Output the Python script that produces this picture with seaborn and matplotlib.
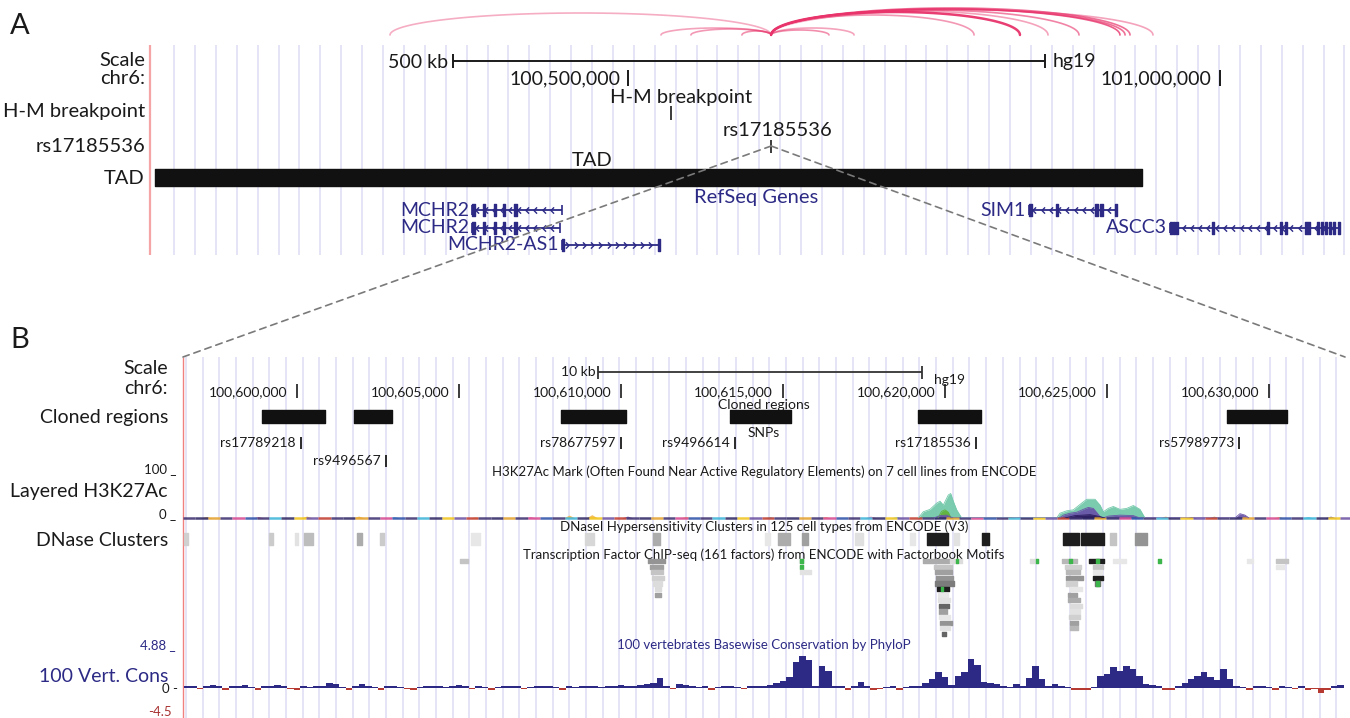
'''
    UCSC-style browser view of the MCHR2 / SIM1 TAD on chr6 (hg19).
    Panel A: the whole TAD with its chromatin loops, panel B: zoom on the cloned regions.
'''
import numpy as np
import pandas as pd
import matplotlib
matplotlib.use('Agg')
import matplotlib.pyplot as plt
from matplotlib.patches import ConnectionPatch
from matplotlib.path import Path
import seaborn as sns

# ---------------- panel A : chr6 view ----------------
a_view = [100_097_780, 101_105_865]
a_ticks = [100_500_000, 101_000_000]
a_tick_labels = ['100,500,000', '101,000,000']
a_scale_bar = [100_352_000, 100_852_000]       # 500 kb
hm_breakpoint = 100_536_000
rs17185536 = 100_620_960
tad = [100_100_000, 100_934_000]

gene_names = ['MCHR2', 'MCHR2', 'MCHR2-AS1', 'SIM1', 'ASCC3']
gene_rows = [0, 1, 2, 0, 1]
gene_starts = [100_368_200, 100_368_200, 100_444_200, 100_838_800, 100_958_000]
gene_ends = [100_444_200, 100_442_500, 100_527_000, 100_913_200, 101_101_600]
gene_strands = ['-', '-', '+', '-', '-']
gene_exons = [
    [(100_368_200, 100_370_700), (100_377_500, 100_379_200), (100_386_800, 100_388_500),
     (100_394_400, 100_396_100), (100_403_700, 100_406_200)],
    [(100_368_200, 100_370_700), (100_377_500, 100_379_200), (100_386_800, 100_388_500),
     (100_394_400, 100_396_100), (100_403_700, 100_406_200)],
    [(100_444_200, 100_445_900), (100_525_300, 100_527_000)],
    [(100_838_800, 100_841_400), (100_861_700, 100_863_400), (100_894_600, 100_897_200),
     (100_898_900, 100_901_400), (100_911_500, 100_913_200)],
    [(100_958_000, 100_959_700), (100_960_500, 100_962_200), (100_963_000, 100_964_700),
     (100_993_400, 100_995_100), (101_039_900, 101_041_600), (101_050_900, 101_052_600),
     (101_055_100, 101_056_800), (101_072_000, 101_076_200), (101_082_100, 101_083_800),
     (101_085_500, 101_087_200), (101_088_900, 101_090_600), (101_092_300, 101_094_000),
     (101_095_600, 101_097_300), (101_099_900, 101_101_600)],
]

# loops (interaction arcs) above panel A
arc_left = [100_298_900, 100_527_900, 100_553_200, 100_596_300] + [rs17185536] * 10
arc_right = [rs17185536] * 4 + [100_669_800, 100_691_000, 100_792_400, 100_831_200, 100_854_900,
                                100_881_100, 100_915_700, 100_920_000, 100_924_200, 100_943_600]
arc_height = [22, 7, 6, 4, 5, 7, 20, 23, 24, 25, 26, 26, 27, 25]
arc_alpha = [0.4, 0.45, 0.5, 0.55, 0.55, 0.45, 0.5, 0.95, 0.45, 0.6, 0.8, 0.7, 0.7, 0.45]

# ---------------- panel B : zoom ----------------
b_view = [100_596_481, 100_632_346]
b_ticks = [100_600_000, 100_605_000, 100_610_000, 100_615_000, 100_620_000, 100_625_000, 100_630_000]
b_tick_labels = ['100,600,000', '100,605,000', '100,610,000', '100,615,000',
                 '100,620,000', '100,625,000', '100,630,000']
b_scale_bar = [100_609_300, 100_619_300]       # 10 kb

cloned_starts = [100_598_920, 100_601_759, 100_608_148, 100_613_364, 100_619_167, 100_628_704]
cloned_ends = [100_600_864, 100_602_932, 100_610_154, 100_615_247, 100_621_111, 100_630_556]

snp_names = ['rs17789218', 'rs9496567', 'rs78677597', 'rs9496614', 'rs17185536', 'rs57989773']
snp_pos = [100_600_120, 100_602_750, 100_609_985, 100_613_520, rs17185536, 100_629_070]
snp_rows = [0, 1, 0, 0, 0, 0]

# H3K27Ac layered signal (0-100)
teal_pos = [100_619_176, 100_619_330, 100_619_537, 100_619_744, 100_619_846, 100_619_948,
            100_620_102, 100_620_176, 100_620_256, 100_620_361, 100_620_515,
            100_623_448, 100_623_549, 100_623_756, 100_623_960, 100_624_219, 100_624_373,
            100_624_630, 100_624_784, 100_624_886, 100_625_040, 100_625_194, 100_625_401,
            100_625_608, 100_625_812, 100_626_019, 100_626_173]
teal_val = [0, 13, 18, 31, 35, 27, 48, 51, 35, 17, 0,
            0, 10, 15, 17, 31, 39, 39, 27, 13, 20, 24, 18, 20, 26, 18, 0]
purple_pos = [100_619_650, 100_619_850, 100_620_050, 100_620_250,
              100_623_528, 100_623_651, 100_623_858, 100_624_064, 100_624_269, 100_624_423,
              100_624_577, 100_624_701, 100_624_784, 100_624_886, 100_625_040, 100_625_401,
              100_625_812, 100_626_019, 100_628_951, 100_629_105, 100_629_259, 100_629_383]
purple_val = [0, 5, 6, 0, 0, 6, 10, 12, 18, 22, 20, 10, 3, 0, 4, 6, 5, 0, 0, 9, 6, 0]
green_pos = [100_619_781, 100_619_895, 100_620_000, 100_620_102, 100_620_185]
green_val = [0, 14, 17, 12, 0]
navy_pos = [100_623_700, 100_624_010, 100_624_480, 100_624_780, 100_624_930]
navy_val = [0, 5, 7, 3, 0]
# small bumps along the baseline: position, height, colour
h3_bumps = [(100_597_200, 3, '#f2b134'), (100_598_800, 3, '#e86aa6'), (100_600_300, 4, '#f2b134'),
            (100_601_900, 4, '#f2b134'), (100_603_000, 3, '#5ac8e0'), (100_605_500, 2, '#f2b134'),
            (100_607_200, 3, '#e86aa6'), (100_608_400, 6, '#f2b134'), (100_609_100, 7, '#f2b134'),
            (100_610_200, 4, '#6a4fa0'), (100_612_000, 3, '#f2b134'), (100_614_600, 3, '#5ac8e0'),
            (100_616_300, 3, '#f2b134'), (100_617_700, 4, '#e86aa6'), (100_618_500, 3, '#5ac8e0'),
            (100_622_000, 3, '#f2b134'), (100_626_800, 4, '#f2b134'), (100_627_600, 3, '#6a4fa0'),
            (100_628_300, 4, '#f2b134'), (100_630_300, 3, '#f2b134'), (100_631_200, 3, '#5ac8e0'),
            (100_631_900, 4, '#6a4fa0')]

# DNase clusters: start, end, darkness (0 white .. 1 black)
dnase = [(100_596_510, 100_596_640, 0.2), (100_599_136, 100_599_259, 0.22),
         (100_599_938, 100_600_031, 0.12), (100_600_216, 100_600_494, 0.28),
         (100_601_852, 100_602_006, 0.35), (100_602_562, 100_602_685, 0.22),
         (100_605_370, 100_605_648, 0.1), (100_608_889, 100_609_167, 0.17),
         (100_610_988, 100_611_204, 0.35), (100_614_444, 100_614_599, 0.1),
         (100_614_846, 100_615_216, 0.35), (100_615_586, 100_615_772, 0.4),
         (100_617_222, 100_617_469, 0.13), (100_618_920, 100_619_074, 0.1),
         (100_619_444, 100_620_093, 0.95), (100_620_278, 100_620_432, 0.12),
         (100_621_142, 100_621_358, 0.95), (100_623_642, 100_624_136, 0.95),
         (100_624_198, 100_624_907, 0.95), (100_625_093, 100_625_278, 0.25),
         (100_625_864, 100_626_235, 0.45)]

# TF ChIP-seq clusters: start, end, row, darkness, motif position
tf_peaks = [
    (100_605_031, 100_605_278, 0, 0.25, None), (100_610_833, 100_611_358, 0, 0.45, None),
    (100_615_494, 100_615_648, 0, 0.08, 100_615_570), (100_619_321, 100_620_154, 0, 0.35, None),
    (100_620_154, 100_620_525, 0, 0.15, 100_620_370), (100_622_623, 100_622_870, 0, 0.15, 100_622_840),
    (100_623_611, 100_624_074, 0, 0.3, 100_623_860), (100_624_444, 100_624_907, 0, 0.95, 100_624_720),
    (100_625_185, 100_625_586, 0, 0.1, None), (100_626_574, 100_626_667, 0, 0.05, 100_626_620),
    (100_629_321, 100_629_506, 0, 0.1, None), (100_630_216, 100_630_586, 0, 0.25, None),
    (100_610_895, 100_611_296, 1, 0.4, None), (100_615_525, 100_615_620, 1, 0.05, 100_615_570),
    (100_619_660, 100_620_216, 1, 0.25, None), (100_623_704, 100_624_198, 1, 0.2, None),
    (100_624_568, 100_624_877, 1, 0.25, None), (100_630_216, 100_630_463, 1, 0.1, None),
    (100_610_926, 100_611_296, 2, 0.25, None), (100_615_525, 100_615_864, 2, 0.12, None),
    (100_619_691, 100_620_216, 2, 0.4, None), (100_623_735, 100_624_167, 2, 0.3, None),
    (100_624_568, 100_624_846, 2, 0.1, None),
    (100_610_957, 100_611_327, 3, 0.2, None), (100_619_722, 100_620_247, 3, 0.45, None),
    (100_623_735, 100_624_259, 3, 0.45, None), (100_624_568, 100_624_877, 3, 0.95, None),
    (100_610_988, 100_611_265, 4, 0.15, None), (100_619_691, 100_620_278, 4, 0.55, None),
    (100_623_735, 100_624_074, 4, 0.2, None), (100_624_630, 100_624_784, 4, 0.6, 100_624_700),
    (100_611_049, 100_611_235, 5, 0.15, None), (100_619_753, 100_620_123, 5, 0.95, 100_619_907),
    (100_623_858, 100_624_228, 5, 0.1, None),
    (100_611_049, 100_611_235, 6, 0.4, None), (100_619_784, 100_620_093, 6, 0.1, None),
    (100_623_796, 100_624_074, 6, 0.4, None),
    (100_619_784, 100_620_154, 7, 0.12, None), (100_623_796, 100_624_167, 7, 0.35, None),
    (100_619_815, 100_620_123, 8, 0.65, None), (100_623_858, 100_624_228, 8, 0.15, None),
    (100_619_815, 100_620_062, 9, 0.4, None), (100_623_858, 100_624_167, 9, 0.12, None),
    (100_619_815, 100_620_154, 10, 0.1, None), (100_623_827, 100_624_167, 10, 0.2, None),
    (100_619_846, 100_620_216, 11, 0.45, None), (100_623_858, 100_624_105, 11, 0.4, None),
    (100_619_846, 100_620_154, 12, 0.12, None), (100_623_858, 100_624_105, 12, 0.3, None),
    (100_619_907, 100_620_031, 13, 0.65, None),
]

# PhyloP 100-way, fixedStep 200 bp from cons_start
cons_start = 100_596_500
cons_step = 200
cons_vals = [
    0.2, 0.3, -0.1, 0.3, 0.4, 0.2, -0.2, 0.3, 0.2, 0.4,
    0.1, -0.2, 0.2, 0.3, 0.4, 0.2, -0.1, -0.2, 0.2, 0.1,
    0.3, 0.2, 0.6, 0.5, 0.1, -0.2, 0.2, 0.5, 0.2, 0.1,
    -0.2, 0.2, 0.3, 0.1, -0.1, -0.2, 0.1, 0.2, 0.3, 0.2,
    0.1, 0.3, 0.4, 0.2, -0.1, 0.2, 0.1, -0.2, 0.1, 0.2,
    0.3, 0.2, -0.1, 0.1, 0.2, 0.3, 0.2, 0.1, -0.2, 0.2,
    0.1, 0.2, 0.3, 0.2, 0.1, 0.3, 0.2, 0.4, 0.3, 0.2,
    0.4, 0.5, 0.6, 1.3, 0.3, -0.1, 0.5, 0.4, 0.2, 0.1,
    0.2, -0.2, 0.1, 0.2, 0.3, 0.1, -0.1, 0.2, 0.3, 0.2,
    0.4, 0.6, 0.9, 1.4, 3.3, 4.1, 3.6, 0.3, 2.8, 2.2,
    0.2, 0.2, -0.2, 0.3, 0.8, 0.2, -0.2, -0.1, 0.1, 0.2,
    -0.2, 0.1, 0.2, 0.3, 0.6, 1.2, 2.1, 1.4, 0.4, 1.6,
    2.1, 3.7, 2.9, 0.8, 0.6, 0.5, 0.2, 0.1, 0.5, 0.2,
    1.3, 2.8, 1.2, 0.3, 0.5, 0.2, 0.1, -0.2, -0.3, -0.2,
    0.1, 1.5, 1.8, 2.7, 2.2, 2.8, 2.4, 1.6, 0.5, 0.4,
    0.2, -0.2, -0.3, 0.3, 0.6, 1.2, 1.6, 2.0, 1.4, 1.0,
    2.5, 1.2, 0.3, 0.1, -0.2, 0.2, 0.3, 0.1, -0.2, 0.2,
    0.1, -0.1, 0.2, -0.2, -0.1, -0.7, -0.3, 0.3, 0.4,
]

# ---------------- styling ----------------
W, H = 1350, 718
NAVY = '#2c2a85'
PINK = '#e8336b'
TEAL = '#74c9ab'
INK = '#1a1a1a'
GUIDE = '#dcdcf4'

sns.set_style('white')
plt.rcParams['font.family'] = ['Lato', 'DejaVu Sans']

fig = plt.figure(figsize=(W / 100, H / 100), dpi=100)


def px_axes(x0, y0, x1, y1):
    ax = fig.add_axes([x0 / W, 1 - y1 / H, (x1 - x0) / W, (y1 - y0) / H])
    ax.set_axis_off()
    ax.patch.set_alpha(0)
    return ax


ax_bg = px_axes(0, 0, W, H)
ax_bg.set_xlim(0, W)
ax_bg.set_ylim(H, 0)

ax_a = px_axes(152, 0, 1345, 260)
ax_a.set_xlim(*a_view)
ax_a.set_ylim(260, 0)

ax_b = px_axes(183, 330, 1345, 718)
ax_b.set_xlim(*b_view)
ax_b.set_ylim(718, 330)

ax_h3 = px_axes(183, 470, 1345, 518)
ax_h3.set_xlim(*b_view)
ax_h3.set_ylim(0, 100)

ax_cons = px_axes(183, 650, 1345, 723)
ax_cons.set_xlim(*b_view)
ax_cons.set_ylim(-4.5, 4.88)

# guide lines
ax_bg.vlines(np.arange(174, 1345, 20.9), 45, 255, color=GUIDE, lw=1.1, zorder=0)
ax_bg.vlines(np.arange(186, 1345, 16.67), 357, 718, color=GUIDE, lw=1.1, zorder=0)
ax_bg.vlines(150, 45, 255, color='#f5a5a5', lw=1.6)
ax_bg.vlines(183, 357, 718, color='#f08080', lw=1.0)

# panel letters and left labels
ax_bg.text(10, 26, 'A', fontsize=21, color=INK, va='center')
ax_bg.text(10, 340, 'B', fontsize=21, color=INK, va='center')
for txt, y in [('Scale', 61), ('chr6:', 78), ('H-M breakpoint', 112), ('rs17185536', 146), ('TAD', 178)]:
    ax_bg.text(145, y, txt, fontsize=14.5, color=INK, ha='right', va='center')
for txt, y in [('Scale', 369), ('chr6:', 388), ('Cloned regions', 417), ('Layered H3K27Ac', 492),
               ('DNase Clusters', 540)]:
    ax_bg.text(168, y, txt, fontsize=14, color=INK, ha='right', va='center')
ax_bg.text(168, 676, '100 Vert. Cons', fontsize=14, color=NAVY, ha='right', va='center')
ax_bg.text(176, 469, '100 _', fontsize=9.5, color=INK, ha='right', va='center')
ax_bg.text(176, 514, '0 _', fontsize=9.5, color=INK, ha='right', va='center')
ax_bg.text(176, 645, '4.88 _', fontsize=9.5, color=NAVY, ha='right', va='center')
ax_bg.text(178, 689, '0 -', fontsize=9.5, color=INK, ha='right', va='center')
ax_bg.text(172, 712, '-4.5', fontsize=9.5, color='#a83232', ha='right', va='center')

# ---------------- panel A ----------------
t = np.linspace(0, np.pi, 90)
for l, r, h, a in zip(arc_left, arc_right, arc_height, arc_alpha):
    ax_a.plot(l + (r - l) * (1 - np.cos(t)) / 2, 35 - h * np.sin(t), color=PINK, alpha=a,
              lw=1.8 if a > 0.9 else 1.2, clip_on=False, solid_capstyle='round')

ax_a.hlines(61, *a_scale_bar, color=INK, lw=1.4)
ax_a.vlines(a_scale_bar, 54, 68, color=INK, lw=1.4)
ax_a.annotate('500 kb', (a_scale_bar[0], 62), xytext=(-5, 0), textcoords='offset pixels',
              ha='right', va='center', fontsize=14, color=INK)
ax_a.annotate('hg19', (a_scale_bar[1], 62), xytext=(8, 0), textcoords='offset pixels',
              ha='left', va='center', fontsize=14, color=INK)
ax_a.vlines(a_ticks, 70, 86, color=INK, lw=1.4)
for pos, lab in zip(a_ticks, a_tick_labels):
    ax_a.annotate(lab, (pos, 79), xytext=(-8, 0), textcoords='offset pixels',
                  ha='right', va='center', fontsize=14, color=INK)

ax_a.vlines(hm_breakpoint, 106, 120, color=INK, lw=1.2)
ax_a.annotate('H-M breakpoint', (hm_breakpoint, 98), xytext=(10, 0), textcoords='offset pixels',
              ha='center', va='center', fontsize=14.5, color=INK)
ax_a.vlines(rs17185536, 140, 153, color=INK, lw=1.2)
ax_a.annotate('rs17185536', (rs17185536, 130), xytext=(6, 0), textcoords='offset pixels',
              ha='center', va='center', fontsize=14.5, color=INK)

ax_a.broken_barh([(tad[0], tad[1] - tad[0])], (169, 17), color='#111111')
ax_bg.text(592, 161, 'TAD', fontsize=14.5, color=INK, ha='center', va='center')
ax_bg.text(756, 197, 'RefSeq Genes', fontsize=14.5, color=NAVY, ha='center', va='center')

CHEV_L = Path([(0.5, 1), (-0.5, 0), (0.5, -1)], [Path.MOVETO, Path.LINETO, Path.LINETO])
CHEV_R = Path([(-0.5, 1), (0.5, 0), (-0.5, -1)], [Path.MOVETO, Path.LINETO, Path.LINETO])
for name, row, s, e, strand, exons in zip(gene_names, gene_rows, gene_starts, gene_ends,
                                          gene_strands, gene_exons):
    y = 210 + 17.5 * row
    ax_a.hlines(y, s, e, color=NAVY, lw=1.3)
    chev = np.arange(s + 4500, e - 2000, 7000)
    ax_a.plot(chev, np.full(len(chev), y), ls='none', marker=CHEV_L if strand == '-' else CHEV_R,
              ms=4.5, mfc='none', mec=NAVY, mew=1.0)
    ax_a.vlines([s, e], y - 5, y + 5, color=NAVY, lw=1.2)
    ax_a.broken_barh([(a, b - a) for a, b in exons], (y - 6, 12), color=NAVY)
    ax_a.annotate(name, (s, y), xytext=(-3, 0), textcoords='offset pixels',
                  ha='right', va='center', fontsize=14, color=NAVY)

# ---------------- panel B ----------------
ax_b.hlines(372, *b_scale_bar, color='#333333', lw=1.3)
ax_b.vlines(b_scale_bar, 366, 379, color='#333333', lw=1.3)
ax_b.annotate('10 kb', (b_scale_bar[0], 372), xytext=(-3, 0), textcoords='offset pixels',
              ha='right', va='center', fontsize=10, color=INK)
ax_b.annotate('hg19', (b_scale_bar[1], 380), xytext=(12, 0), textcoords='offset pixels',
              ha='left', va='center', fontsize=10, color=INK)
ax_b.vlines(b_ticks, 384, 398, color=INK, lw=1.2)
for pos, lab in zip(b_ticks, b_tick_labels):
    ax_b.annotate(lab, (pos, 392), xytext=(-10, 0), textcoords='offset pixels',
                  ha='right', va='center', fontsize=10, color=INK)

ax_b.broken_barh([(s, e - s) for s, e in zip(cloned_starts, cloned_ends)], (410, 13), color='#111111')
ax_bg.text(764, 405, 'Cloned regions', fontsize=10, color=INK, ha='center', va='center')
ax_bg.text(764, 433, 'SNPs', fontsize=10, color=INK, ha='center', va='center')

for name, pos, row in zip(snp_names, snp_pos, snp_rows):
    y = 443 + 18 * row
    ax_b.vlines(pos, y - 6, y + 6, color=INK, lw=1.3)
    ax_b.annotate(name, (pos, y), xytext=(-5, 0), textcoords='offset pixels',
                  ha='right', va='center', fontsize=10, color=INK)

# H3K27Ac layers
ax_bg.text(764, 472, 'H3K27Ac Mark (Often Found Near Active Regulatory Elements) on 7 cell lines from ENCODE',
           fontsize=9.5, color=INK, ha='center', va='center')
base_palette = ['#3b2d6e', '#2a2360', '#e3a02b', '#3b2d6e', '#d6458f', '#2a4fa8',
                '#3b2d6e', '#39b3d8', '#2a2360', '#f0c419', '#6a4fa0', '#c0392b']
seg = np.arange(b_view[0], b_view[1], 380)
for i, x0 in enumerate(seg):
    ax_h3.plot([x0, x0 + 380], [0, 0], color=base_palette[i % len(base_palette)], lw=1.8,
               alpha=0.85, clip_on=False, solid_capstyle='butt')
for pos, h, c in h3_bumps:
    ax_h3.fill_between([pos - 180, pos, pos + 180], 0, [0, h, 0], color=c, lw=0, alpha=0.8)
layers = pd.concat([
    pd.DataFrame({'pos': teal_pos, 'val': teal_val, 'layer': 'teal'}),
    pd.DataFrame({'pos': green_pos, 'val': green_val, 'layer': 'green'}),
    pd.DataFrame({'pos': purple_pos, 'val': purple_val, 'layer': 'purple'}),
    pd.DataFrame({'pos': navy_pos, 'val': navy_val, 'layer': 'navy'}),
])
layer_colors = {'teal': TEAL, 'green': '#62b43c', 'purple': '#6a55a8', 'navy': '#2b1d5e'}
for name, df in layers.groupby('layer', sort=False):
    ax_h3.fill_between(df['pos'], 0, df['val'], color=layer_colors[name], lw=0, alpha=0.95)
sns.lineplot(data=layers, x='pos', y='val', hue='layer', palette=layer_colors, units='layer',
             estimator=None, sort=False, lw=0.6, legend=False, ax=ax_h3)
ax_h3.set_axis_off()

# DNase
ax_bg.text(764, 527, 'DNaseI Hypersensitivity Clusters in 125 cell types from ENCODE (V3)',
           fontsize=9.5, color=INK, ha='center', va='center')
for s, e, d in dnase:
    ax_b.broken_barh([(s, e - s)], (533, 12), color=str(round(1 - 0.93 * d, 3)))

# TF ChIP-seq
ax_bg.text(764, 555, 'Transcription Factor ChIP-seq (161 factors) from ENCODE with Factorbook Motifs',
           fontsize=9.5, color=INK, ha='center', va='center')
for s, e, row, d, motif in tf_peaks:
    y = 559 + 5.6 * row
    ax_b.broken_barh([(s, e - s)], (y, 4.2), color=str(round(1 - 0.93 * d, 3)))
    if motif is not None:
        ax_b.broken_barh([(motif - 45, 90)], (y, 4.2), color='#3cb54a')

# Conservation
ax_bg.text(764, 645, '100 vertebrates Basewise Conservation by PhyloP',
           fontsize=9.5, color=NAVY, ha='center', va='center')
cons_pos = cons_start + cons_step * np.arange(len(cons_vals))
cons_vals = np.array(cons_vals)
ax_cons.bar(cons_pos, cons_vals, width=cons_step, align='edge', lw=0,
            color=[NAVY if v >= 0 else '#b73a32' for v in cons_vals])

# dashed zoom lines from panel A SNP to panel B
for xb in b_view:
    con = ConnectionPatch(xyA=(rs17185536, 146), coordsA=ax_a.transData,
                          xyB=(xb, 357), coordsB=ax_b.transData,
                          color='#7a7a7a', lw=1.2, linestyle=(0, (4, 3)), zorder=20)
    fig.add_artist(con)

fig.savefig('out.png', dpi=100)
